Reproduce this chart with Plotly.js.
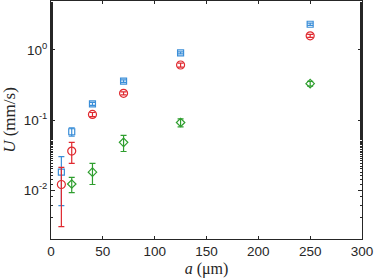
<!DOCTYPE html>
<html>
<head>
<meta charset="utf-8">
<script src="https://cdn.plot.ly/plotly-3.0.1.min.js"></script>
<style>html,body{margin:0;padding:0;background:#fff;}#plot{width:374px;height:279px;}</style>
</head>
<body>
<div id="plot"></div>
<script>
// Data
const aBlue = [10, 20, 40, 70, 125, 250];
const uBlue = [0.018, 0.068, 0.17, 0.36, 0.91, 2.33];
const eBlue = [0.012, 0.009, 0.008, 0.015, 0.03, 0.08];

const aRed = [10, 20, 40, 70, 125, 250];
const uRed = [0.012, 0.036, 0.12, 0.24, 0.61, 1.59];
const eRed = [0.009, 0.012, 0.008, 0.012, 0.04, 0.08];

const aGreen = [20, 40, 70, 125, 250];
const uGreen = [0.0122, 0.018, 0.048, 0.092, 0.33];
const eGreen = [0.003, 0.006, 0.0125, 0.012, 0.025];

const xTicks = [0, 50, 100, 150, 200, 250, 300];
const yTickVals = [0.01, 0.1, 1];
const yTickText = ['10<sup>-2</sup>', '10<sup>-1</sup>', '10<sup>0</sup>'];

const colBlue = '#3b8ed8', colRed = '#e0292f', colGreen = '#2e9e2e';

function series(x, y, e, color, symbol, size) {
  return {
    x: x, y: y, type: 'scatter', mode: 'markers',
    marker: {symbol: symbol, size: size, color: color, line: {color: color, width: 1.2}},
    error_y: {type: 'data', array: e, visible: true, color: color, thickness: 1.2, width: 3},
    showlegend: false, hoverinfo: 'none'
  };
}

const data = [
  series(aBlue, uBlue, eBlue, colBlue, 'square-open', 6),
  series(aRed, uRed, eRed, colRed, 'circle-open', 8),
  series(aGreen, uGreen, eGreen, colGreen, 'diamond-open', 6.5)
];

const axisCommon = {
  showline: true, mirror: 'ticks', linecolor: '#262626', linewidth: 1,
  ticks: 'inside', tickcolor: '#262626', tickwidth: 1,
  showgrid: false, zeroline: false,
  tickfont: {family: 'Liberation Sans, Arial, sans-serif', size: 13.5, color: '#262626'}
};

const layout = {
  width: 374, height: 279,
  margin: {l: 51, r: 12, t: 1, b: 40},
  paper_bgcolor: '#fff', plot_bgcolor: '#fff',
  xaxis: Object.assign({}, axisCommon, {
    range: [0, 300], tickvals: xTicks, ticklen: 3,
    title: {text: '<i>a</i> (μm)', standoff: 4,
      font: {family: 'Liberation Serif, Times New Roman, serif', size: 16, color: '#262626'}}
  }),
  yaxis: Object.assign({}, axisCommon, {
    type: 'log', range: [Math.log10(0.002), Math.log10(5)],
    tickvals: yTickVals, ticktext: yTickText, ticklen: 4,
    minor: {ticks: 'inside', ticklen: 2, tickcolor: '#262626', showgrid: false},
    title: {text: '<i>U</i> (mm/s)', standoff: 4,
      font: {family: 'Liberation Serif, Times New Roman, serif', size: 17, color: '#262626'}}
  })
};

Plotly.newPlot('plot', data, layout, {staticPlot: true, displayModeBar: false});
</script>
</body>
</html>
